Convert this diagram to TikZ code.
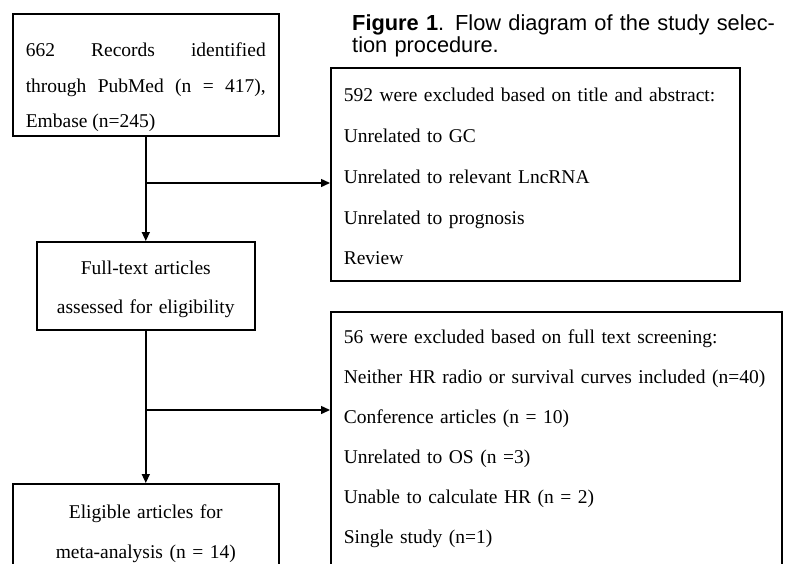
\documentclass[tikz,border=0pt]{standalone}
\usepackage{fontspec}
\setmainfont{Liberation Serif}
\newfontfamily\captionsans{Liberation Sans}
\usetikzlibrary{arrows.meta}

\tikzset{
  flowbox/.style={draw, line width=1.6pt, anchor=north west, inner ysep=0pt, inner xsep=13pt},
  flowarrow/.style={line width=1.4pt, -{Triangle[length=9pt,width=8pt]}}
}

\begin{document}
\begin{tikzpicture}[x=1pt,y=-1pt]
  \useasboundingbox (0,0) rectangle (785,563);
  \clip (0,0) rectangle (785,563);
  \node[anchor=north west, inner sep=0pt, text width=480pt, align=left, text height=17pt,
        font=\captionsans\fontsize{21.8}{21.5}\selectfont] (caption) at (352,13.5)
        {\textbf{Figure 1}. Flow diagram of the study selec-\\tion procedure.};
  \node[flowbox, text width=240pt, align=justify, text height=43pt, text depth=79pt,
        font=\fontsize{19.5}{35.5}\selectfont] (records) at (12,13)
        {662 Records identified\linebreak through PubMed (n = 417),\linebreak Embase (n=245)};
  \node[flowbox, text width=383pt, align=left, text height=34pt, text depth=179pt,
        font=\fontsize{19.5}{40.75}\selectfont] (titleexcl) at (330,67)
        {592 were excluded based on title and abstract:\\
         Unrelated to GC\\
         Unrelated to relevant LncRNA\\
         Unrelated to prognosis\\
         Review};
  \node[flowbox, text width=192pt, align=center, text height=33pt, text depth=55pt,
        font=\fontsize{19.5}{39}\selectfont] (fulltext) at (36,241)
        {Full-text articles\\ assessed for eligibility};
  \node[flowbox, text width=425pt, align=left, text height=32pt, text depth=257pt,
        font=\fontsize{19.5}{40}\selectfont] (textexcl) at (330,311)
        {56 were excluded based on full text screening:\\
         Neither HR radio or survival curves included (n=40)\\
         Conference articles (n = 10)\\
         Unrelated to OS (n =3)\\
         Unable to calculate HR (n = 2)\\
         Single study (n=1)};
  \node[flowbox, text width=240pt, align=center, text height=35pt, text depth=82pt,
        font=\fontsize{19.5}{40}\selectfont] (eligible) at (12,483)
        {Eligible articles for\\ meta-analysis (n = 14)};
  \coordinate (split1) at (145,183);
  \coordinate (split2) at (145,410);
  \draw[flowarrow] (records.south) -- (fulltext.north);
  \draw[flowarrow] (split1) -- (split1 -| titleexcl.west);
  \draw[flowarrow] (fulltext.south) -- (eligible.north);
  \draw[flowarrow] (split2) -- (split2 -| textexcl.west);
\end{tikzpicture}
\end{document}
